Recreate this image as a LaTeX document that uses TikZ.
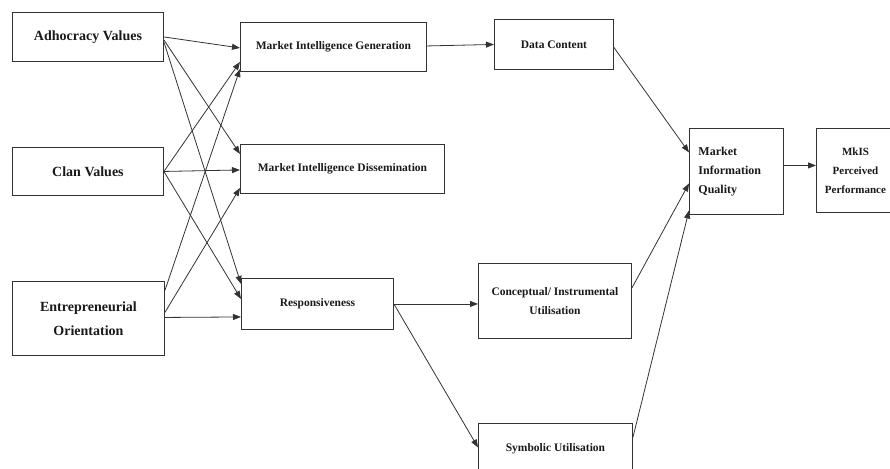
\documentclass[tikz,border=0pt]{standalone}
\usepackage{fontspec}
\setmainfont{Liberation Serif}
\usetikzlibrary{arrows.meta}

\begin{document}
\begin{tikzpicture}[x=1pt, y=-1pt,
  box/.style={draw=black!80, line width=0.9pt, anchor=north west, align=center,
    inner sep=2pt, text=black!90, font=\bfseries\fontsize{11.5}{19}\selectfont},
  bigbox/.style={box, font=\bfseries\fontsize{14}{24}\selectfont},
  link/.style={draw=black!80, line width=0.8pt, -{Triangle[length=8pt,width=6pt]}}]
\useasboundingbox (0,0) rectangle (890,468);
\clip (0,0) rectangle (890,468);
% Antecedents
\node[bigbox, minimum width=151, minimum height=49] (adh) at (12,12) {Adhocracy Values};
\node[bigbox, minimum width=151, minimum height=48] (clan) at (12,147) {Clan Values};
\node[bigbox, minimum width=152, minimum height=74] (eo) at (12,281) {Entrepreneurial\\Orientation};
% Market orientation
\node[box, minimum width=186, minimum height=49] (mig) at (240,22) {Market Intelligence Generation};
\node[box, minimum width=204, minimum height=49] (mid) at (240,144) {Market Intelligence Dissemination};
\node[box, minimum width=152, minimum height=51] (resp) at (241,278) {Responsiveness};
% Use of information
\node[box, minimum width=119, minimum height=50] (dc) at (494,19) {Data Content};
\node[box, minimum width=153, minimum height=75] (cu) at (478,263) {Conceptual/ Instrumental\\Utilisation};
\node[box, minimum width=154, minimum height=50] (su) at (478,423) {Symbolic Utilisation};
% Outcomes
\node[box, minimum width=94, minimum height=86, text width=76, align=left,
  font=\bfseries\fontsize{12}{19}\selectfont] (miq) at (689,128) {Market\\Information\\Quality};
\node[box, minimum width=78, minimum height=84, inner xsep=0pt,
  font=\bfseries\fontsize{11}{19}\selectfont] (mkis) at (816,128) {MkIS\\Perceived\\Performance};
% Arrows from the antecedents
\draw[link] (adh.east) -- ([yshift=-1pt]mig.west);
\draw[link] ([yshift=-3pt]adh.east) -- ([yshift=15pt]mid.west);
\draw[link] ([yshift=-5pt]adh.east) -- ([yshift=20pt]resp.west);
\draw[link] (clan.east) -- ([yshift=-15pt]mig.west);
\draw[link] (clan.east) -- ([yshift=-1pt]mid.west);
\draw[link] (clan.east) -- ([yshift=5pt]resp.west);
\draw[link] ([yshift=28pt]eo.east) -- ([yshift=-22pt]mig.west);
\draw[link] ([yshift=6pt]eo.east) -- ([yshift=-19pt]mid.west);
\draw[link] ([yshift=1pt]eo.east) -- ([yshift=-13pt]resp.west);
% Arrows to quality and performance
\draw[link] ([yshift=1pt]mig.east) -- (dc.west);
\draw[link] ([yshift=-3pt]dc.east) -- ([yshift=19pt]miq.west);
\draw[link] (resp.east) -- (resp.east -| cu.west);
\draw[link] (resp.east) -- ([yshift=1pt]su.west);
\draw[link] ([yshift=13pt]cu.east) -- ([yshift=-12pt]miq.west);
\draw[link] ([yshift=11pt]su.east) -- ([yshift=-39pt]miq.west);
\draw[link] ([yshift=6pt]miq.east) -- ([yshift=6pt]miq.east -| mkis.west);
\end{tikzpicture}
\end{document}
